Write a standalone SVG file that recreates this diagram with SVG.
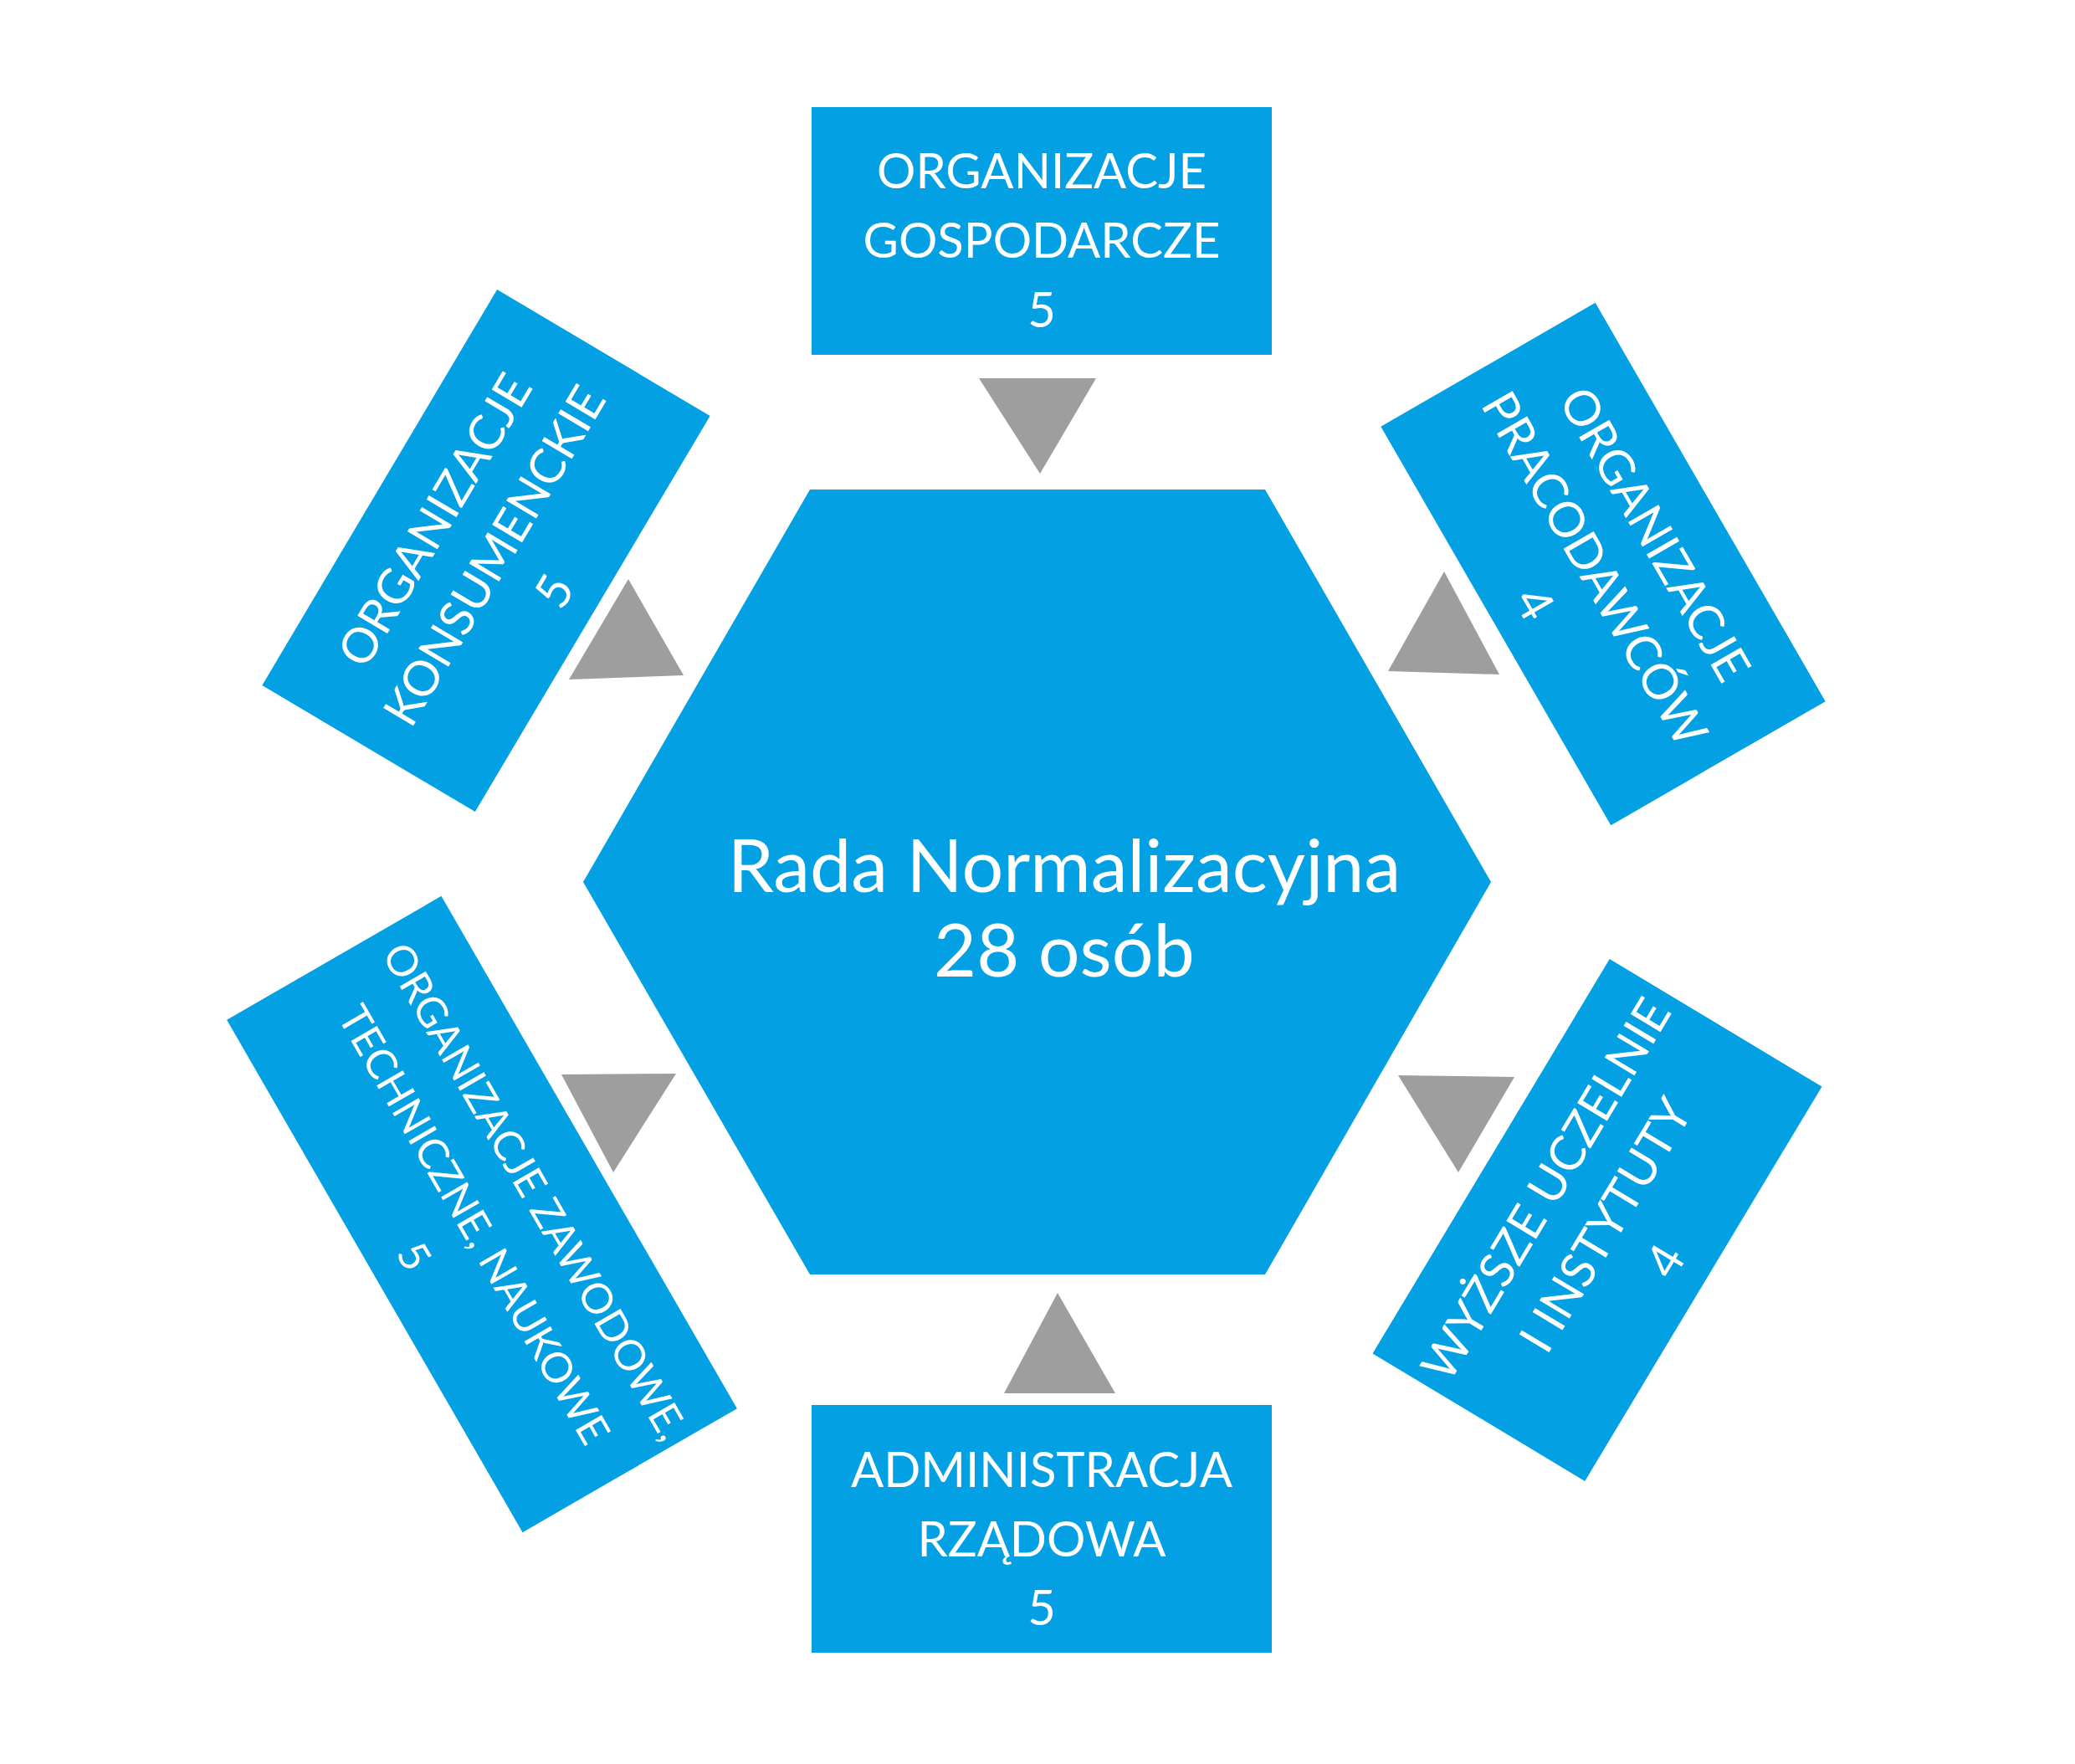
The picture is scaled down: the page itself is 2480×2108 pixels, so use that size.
<svg xmlns="http://www.w3.org/2000/svg" width="2480" height="2108" viewBox="0 0 2480 2108">
<style>
.box{fill:#03a0e3}
.tri{fill:#9e9e9e}
.t{font-family:Lato,"Open Sans","Liberation Sans",sans-serif;fill:#fff;text-anchor:middle;font-size:58px}
.s{font-size:50px}
.c{font-family:Lato,"Open Sans","Liberation Sans",sans-serif;fill:#fff;text-anchor:middle;font-size:88px}
</style>
<rect width="2480" height="2108" fill="#fff"/>
<g id="rada">
<polygon class="box" points="968,585 1512,585 1782,1054 1512,1523 968,1523 697,1054"/>
<text class="c" x="1272" y="1066">Rada Normalizacyjna</text>
<text class="c" x="1272" y="1167">28 osób</text>
</g>
<g id="gospodarcze">
<rect class="box" x="970" y="128" width="550" height="296"/>
<text class="t" x="1245" y="225">ORGANIZACJE</text>
<text class="t" x="1245" y="308">GOSPODARCZE</text>
<text class="t" x="1245" y="391">5</text>
</g>
<g id="pracodawcow" transform="translate(1916,674) rotate(60)">
<rect class="box" x="-275" y="-148" width="550" height="296"/>
<text class="t" x="0" y="-51">ORGANIZACJE</text>
<text class="t" x="0" y="32">PRACODAWCÓW</text>
<text class="t" x="0" y="115">4</text>
</g>
<g id="uczelnie" transform="translate(1909,1458) rotate(-59)">
<rect class="box" x="-275" y="-148" width="550" height="296"/>
<text class="t" x="0" y="-51">WYŻSZE UCZELNIE</text>
<text class="t" x="0" y="32">I INSTYTUTY</text>
<text class="t" x="0" y="115">4</text>
</g>
<g id="administracja">
<rect class="box" x="970" y="1679" width="550" height="296"/>
<text class="t" x="1245" y="1777">ADMINISTRACJA</text>
<text class="t" x="1245" y="1860">RZĄDOWA</text>
<text class="t" x="1245" y="1942">5</text>
</g>
<g id="zawodowe" transform="translate(576,1451) rotate(60)">
<rect class="box" x="-353.5" y="-148" width="707" height="296"/>
<text class="t s" x="8" y="-51">ORGANIZACJE ZAWODOWE,</text>
<text class="t s" x="6" y="32">TECHNICZNE, NAUKOWE</text>
<text class="t s" x="3" y="113">5</text>
</g>
<g id="konsumenckie" transform="translate(581,658) rotate(-59.3)">
<rect class="box" x="-275" y="-148" width="550" height="296"/>
<text class="t" x="0" y="-51">ORGANIZACJE</text>
<text class="t" x="0" y="32">KONSUMENCKIE</text>
<text class="t" x="0" y="115">5</text>
</g>
<g id="connectors">
<polygon class="tri" points="1170,452 1310,452 1243,566"/>
<polygon class="tri" points="1726,683 1659,802 1792,806"/>
<polygon class="tri" points="1743,1401 1671,1285 1810,1287"/>
<polygon class="tri" points="1264,1545 1200,1665 1333,1665"/>
<polygon class="tri" points="733,1401 671,1284 808,1283"/>
<polygon class="tri" points="751,692 680,812 817,807"/>
</g>
</svg>
